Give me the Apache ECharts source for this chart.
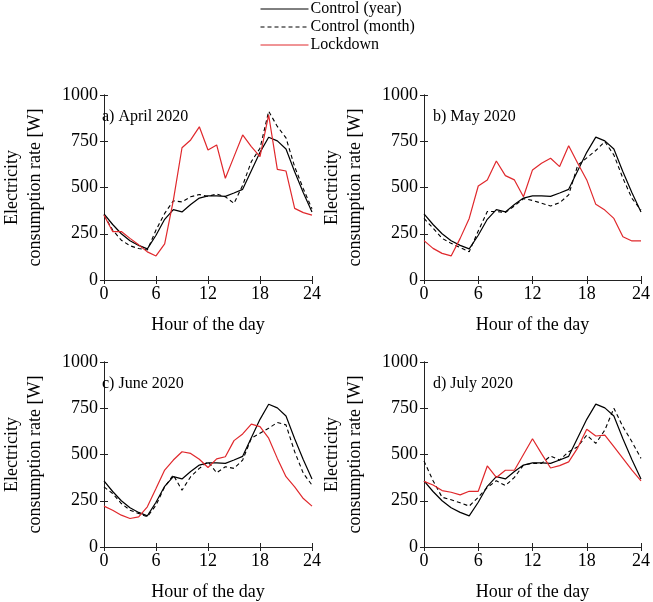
<!DOCTYPE html>
<html>
<head>
<meta charset="utf-8">
<script src="https://cdn.jsdelivr.net/npm/echarts@6/dist/echarts.min.js"></script>
<style>html,body{margin:0;padding:0;background:#fff;}#c{width:653px;height:602px;}</style>
</head>
<body>
<div id="c"></div>
<script>
const hours = [0,1,2,3,4,5,6,7,8,9,10,11,12,13,14,15,16,17,18,19,20,21,22,23,24];
const yTicks = [0,250,500,750,1000];
const xTicks = [0,6,12,18,24];
const panelTitles = ['a) April 2020','b) May 2020','c) June 2020','d) July 2020'];
const seriesNames = ['Control (year)','Control (month)','Lockdown'];

const controlYear = [358,300,250,212,187,168,242,328,380,368,408,443,455,455,452,470,490,590,690,772,752,708,585,472,368];

const aprilMonth = [350,270,215,185,170,162,270,360,428,422,450,462,452,465,450,414,512,640,712,912,830,768,612,493,385];
const aprilLock  = [350,262,262,225,190,152,130,195,430,715,757,828,703,730,550,667,784,721,667,892,598,589,387,364,351];

const mayMonth = [333,280,225,198,175,153,265,370,370,365,400,440,430,415,400,418,460,620,660,700,748,676,550,441,378];
const mayLock  = [213,171,144,130,225,333,508,541,643,564,541,450,595,631,658,613,726,631,541,409,378,333,234,211,211];

const juneMonth = [325,289,235,199,181,163,226,325,389,307,380,425,461,401,434,425,470,588,615,642,673,660,515,398,335];
const juneLock  = [221,199,172,154,163,217,316,416,470,515,506,474,430,476,488,575,611,664,651,588,479,380,325,262,221];

const julyMonth = [465,358,269,255,239,221,269,322,358,332,376,443,452,452,492,470,515,542,605,560,632,750,650,569,479];
const julyLock  = [355,335,305,296,282,301,301,438,376,415,415,500,585,505,427,440,460,536,636,600,605,542,479,416,357];

const monthData = [aprilMonth, mayMonth, juneMonth, julyMonth];
const lockData = [aprilLock, mayLock, juneLock, julyLock];

const FONT = '"Liberation Serif","Times New Roman",serif';
const grids = [
  {left:93, top:95, width:219, height:185},
  {left:424, top:95, width:219, height:185},
  {left:93, top:362, width:219, height:185},
  {left:424, top:362, width:219, height:185}
];
const pair = arr => hours.map((h,i)=>[h, arr[i]]);

const xAxes = [], yAxes = [], series = [], titles = [];
grids.forEach((g, i) => {
  const axLine = {show:true, lineStyle:{color:'#222', width:1}};
  const tick = {show:true, inside:true, length:4, lineStyle:{color:'#222', width:1}};
  xAxes.push({
    type:'value', gridIndex:i, min:xTicks[0], max:xTicks[xTicks.length-1], interval:6,
    axisLine:axLine, axisTick:tick, splitLine:{show:false},
    axisLabel:{color:'#000', fontFamily:FONT, fontSize:18, margin:5, formatter:v=>String(v)},
    name:'Hour of the day', nameLocation:'middle', nameGap:36,
    nameTextStyle:{color:'#000', fontFamily:FONT, fontSize:18}
  });
  xAxes.push({
    type:'value', gridIndex:i, position:'top', min:0, max:24, interval:6,
    axisLine:axLine, axisTick:tick, axisLabel:{show:false}, splitLine:{show:false}
  });
  yAxes.push({
    type:'value', gridIndex:i, min:yTicks[0], max:yTicks[yTicks.length-1], interval:250,
    axisLine:axLine, axisTick:tick, splitLine:{show:false},
    axisLabel:{color:'#000', fontFamily:FONT, fontSize:18, margin:6, formatter:v=>String(v)},
    name:'Electricity\nconsumption rate [W]', nameLocation:'middle', nameRotate:90, nameGap:57,
    nameTextStyle:{color:'#000', fontFamily:FONT, fontSize:18, lineHeight:23, align:'center'}
  });
  yAxes.push({
    type:'value', gridIndex:i, position:'right', min:0, max:1000, interval:250,
    axisLine:axLine, axisTick:tick, axisLabel:{show:false}, splitLine:{show:false}
  });
  const xi = i*2, yi = i*2;
  series.push({
    name:seriesNames[0], type:'line', xAxisIndex:xi, yAxisIndex:yi, data:pair(controlYear),
    symbol:'none', lineStyle:{color:'#000', width:1.2}, itemStyle:{color:'#000'}, z:3
  });
  series.push({
    name:seriesNames[1], type:'line', xAxisIndex:xi, yAxisIndex:yi, data:pair(monthData[i]),
    symbol:'none', lineStyle:{color:'#000', width:1.1, type:[4,3]}, itemStyle:{color:'#000'}, z:2
  });
  series.push({
    name:seriesNames[2], type:'line', xAxisIndex:xi, yAxisIndex:yi, data:pair(lockData[i]),
    symbol:'none', lineStyle:{color:'#e0282c', width:1.2}, itemStyle:{color:'#e0282c'}, z:4
  });
  titles.push({
    text:panelTitles[i], left:g.left+4, top:g.top+9,
    textStyle:{color:'#000', fontFamily:FONT, fontSize:16, fontWeight:'normal'}
  });
});

const chart = echarts.init(document.getElementById('c'), null, {renderer:'canvas'});
chart.setOption({
  backgroundColor:'#fff',
  animation:false,
  title:titles,
  legend:{
    data:seriesNames, orient:'vertical', left:255, top:-4,
    itemWidth:48, itemHeight:14, itemGap:2,
    itemStyle:{opacity:0},
    lineStyle:{width:1},
    textStyle:{color:'#000', fontFamily:FONT, fontSize:16, padding:[0,0,0,-3]}
  },
  grid:grids,
  xAxis:xAxes,
  yAxis:yAxes,
  series:series
});
</script>
</body>
</html>
